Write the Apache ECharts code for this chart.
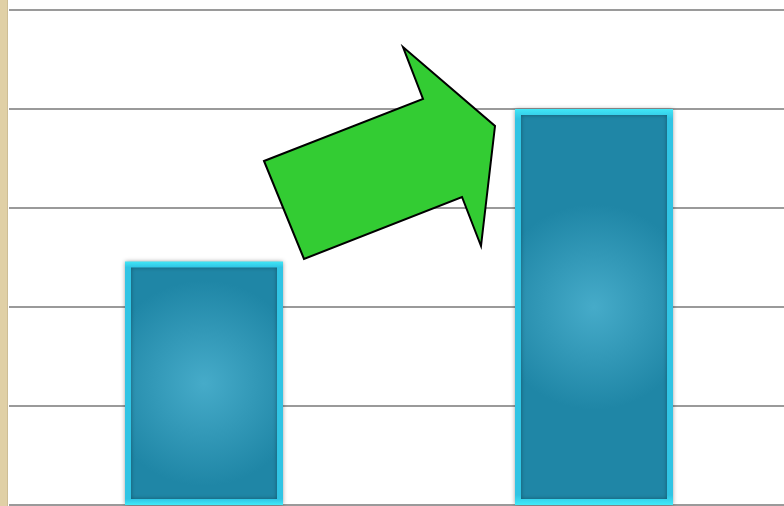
<!DOCTYPE html>
<html>
<head>
<meta charset="utf-8">
<script src="https://cdn.jsdelivr.net/npm/echarts@6/dist/echarts.min.js"></script>
<style>html,body{margin:0;padding:0;background:#fff;overflow:hidden;width:784px;height:506px;}#c{width:789px;height:506px;}</style>
</head>
<body>
<div id="c"></div>
<script>
const categories = ['Before', 'After'];
const values = [2.46, 4.0];
const yTicks = { min: 0, max: 5, interval: 1 };

const chart = echarts.init(document.getElementById('c'));
const arrowPts = [[264,161],[423,99],[403,47],[495,126],[481,246],[462,197],[304,259]];
chart.setOption({
  animation: false,
  backgroundColor: '#ffffff',
  grid: { left: 9, right: 0, top: 10, bottom: 1 },
  xAxis: {
    type: 'category', data: categories,
    axisLine: { show: false }, axisTick: { show: false }, axisLabel: { show: false }
  },
  yAxis: {
    type: 'value', min: yTicks.min, max: yTicks.max, interval: yTicks.interval,
    axisLabel: { show: false }, axisLine: { show: false }, axisTick: { show: false },
    splitLine: { lineStyle: { color: '#9a9a9a', width: 2 } }
  },
  series: [{
    type: 'bar', data: values, barWidth: 158,
    itemStyle: {
      color: new echarts.graphic.RadialGradient(0.5, 0.5, 0.65, [
        { offset: 0, color: '#46abc9' },
        { offset: 1, color: '#1f86a6' }
      ]),
      borderColor: new echarts.graphic.LinearGradient(0, 0, 0, 1, [
        { offset: 0, color: '#40e6f6' },
        { offset: 0.025, color: '#30c4e4' },
        { offset: 0.975, color: '#30c4e4' },
        { offset: 1, color: '#40eaf8' }
      ]),
      borderWidth: 6,
      shadowBlur: 4,
      shadowColor: 'rgba(0,0,0,0.35)'
    }
  }],
  graphic: [
    { type: 'rect', left: 0, top: 0, z: 100, shape: { x: 0, y: 0, width: 8, height: 506 }, style: { fill: '#e0d0a6' } },
    { type: 'rect', left: 7, top: 0, z: 101, shape: { x: 0, y: 0, width: 1, height: 506 }, style: { fill: '#cdbd95' } },
    { type: 'polygon', z: 100, shape: { points: arrowPts }, style: { fill: '#33cc33', stroke: '#000', lineWidth: 2, lineJoin: 'miter' } }
  ]
});
</script>
</body>
</html>
